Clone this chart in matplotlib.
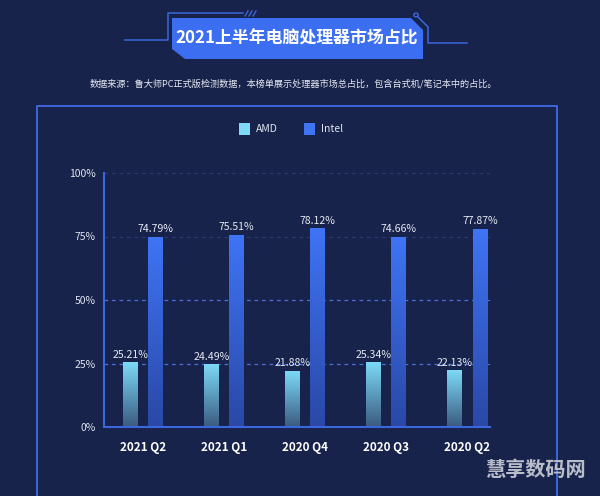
import matplotlib
matplotlib.use("Agg")
import matplotlib.pyplot as plt
import numpy as np
from matplotlib.patches import Rectangle, Polygon, Circle
from matplotlib.lines import Line2D
from matplotlib.colors import LinearSegmentedColormap

plt.rcParams['font.family'] = ['Noto Sans CJK SC', 'DejaVu Sans']

# ---- data ----
categories = ["2021 Q2", "2021 Q1", "2020 Q4", "2020 Q3", "2020 Q2"]
amd = [25.21, 24.49, 21.88, 25.34, 22.13]
intel = [74.79, 75.51, 78.12, 74.66, 77.87]
series_names = ["AMD", "Intel"]
yticks = [0, 25, 50, 75, 100]
ytick_labels = ["0%", "25%", "50%", "75%", "100%"]
title = "2021上半年电脑处理器市场占比"
subtitle = "数据来源：鲁大师PC正式版检测数据，本榜单展示处理器市场总占比，包含台式机/笔记本中的占比。"
watermark = "慧享数码网"

W, H = 600, 496
BG = "#17234b"
LINE = "#3b66dc"

fig = plt.figure(figsize=(W / 100, H / 100), dpi=100, facecolor=BG)

def fx(x):
    return x / W

def fy(y):
    return 1 - y / H

# ---- outer frame ----
fig.add_artist(Line2D([fx(37), fx(37), fx(557), fx(557)],
                      [fy(500), fy(106), fy(106), fy(500)],
                      color=LINE, lw=1.4, transform=fig.transFigure))

# ---- title decoration ----
fig.add_artist(Line2D([fx(125), fx(168), fx(168), fx(243)],
                      [fy(40), fy(40), fy(13), fy(13)],
                      color=LINE, lw=1.1, transform=fig.transFigure))
for i in range(3):
    x0 = 245 + i * 4
    fig.add_artist(Line2D([fx(x0), fx(x0 + 3)], [fy(16), fy(11)],
                          color=LINE, lw=1.0, transform=fig.transFigure))
fig.add_artist(Line2D([fx(418), fx(428), fx(428), fx(467)],
                      [fy(17), fy(27), fy(43), fy(43)],
                      color=LINE, lw=1.1, transform=fig.transFigure))
fig.add_artist(Circle((fx(416), fy(15)), 2.2 / W, transform=fig.transFigure,
                      fill=False, ec=LINE, lw=1.0))
box = Polygon([(fx(172), fy(18)), (fx(411), fy(18)), (fx(423), fy(30)),
               (fx(423), fy(59)), (fx(185), fy(59)), (fx(172), fy(49))],
              closed=True, transform=fig.transFigure, fc="#3b6ef0", ec="none")
fig.add_artist(box)
fig.text(fx(297), fy(39), title, color="white", fontsize=12.2, fontweight="bold",
         ha="center", va="center")
fig.text(fx(293), fy(84), subtitle, color="#e6e9f2", fontsize=6.6,
         ha="center", va="center")

# ---- legend ----
leg_colors = ["#7fdaf7", "#3f74f5"]
leg_x = [239, 304]
for name, c, x in zip(series_names, leg_colors, leg_x):
    fig.add_artist(Rectangle((fx(x), fy(135)), 11 / W, 12.5 / H, transform=fig.transFigure,
                             fc=c, ec="none"))
    fig.text(fx(x + 17), fy(128.5), name, color="#dfe4f0", fontsize=7.5,
             ha="left", va="center")

# ---- axes ----
ax = fig.add_axes([fx(104), fy(427), (490 - 104) / W, (427 - 173) / H])
ax.set_facecolor("none")

for y in [25, 50]:
    ax.axhline(y, color="#4a6fd6", lw=0.9, ls=(0, (3, 3)), zorder=0)
for y in [75, 100]:
    ax.axhline(y, color="#2a3a70", lw=0.9, ls=(0, (3, 3)), zorder=0)

x = np.arange(len(categories))
bw = 0.18
off = 0.155

grad_amd = LinearSegmentedColormap.from_list("amd", ["#3a5a80", "#7cdaf6"])
grad_int = LinearSegmentedColormap.from_list("int", ["#2a48a6", "#3f74f5"])
grad = np.linspace(0, 1, 256).reshape(-1, 1)

bars_a = ax.bar(x - off, amd, width=bw, color="none", zorder=2)
bars_i = ax.bar(x + off, intel, width=bw, color="none", zorder=2)
for bars, cmap in [(bars_a, grad_amd), (bars_i, grad_int)]:
    for b in bars:
        x0, w, h = b.get_x(), b.get_width(), b.get_height()
        ax.imshow(grad, extent=[x0, x0 + w, 0, h], origin="lower", cmap=cmap,
                  aspect="auto", zorder=2)
        ax.text(x0 + w / 2, h + 1.2, f"{h:.2f}%", ha="center", va="bottom",
                color="#e6e9f2", fontsize=7.6, zorder=3)
ax.set_xlim(-0.48, 4.28)
ax.set_ylim(0, 100)

ax.set_xticks(x)
ax.set_xticklabels(categories, color="white", fontsize=8.4, fontweight="bold")
ax.set_yticks(yticks)
ax.set_yticklabels(ytick_labels, color="#dfe4f0", fontsize=7.5)
ax.tick_params(axis="x", length=0, pad=10)
ax.tick_params(axis="y", length=0, pad=6)
for s in ["top", "right"]:
    ax.spines[s].set_visible(False)
for s in ["left", "bottom"]:
    ax.spines[s].set_color(LINE)
    ax.spines[s].set_linewidth(1.5)

# ---- watermark ----
fig.text(fx(535), fy(469), watermark, color="#b9bdca", fontsize=14.5,
         fontweight="bold", ha="center", va="center")

fig.savefig("out.png", dpi=100, facecolor=BG)
